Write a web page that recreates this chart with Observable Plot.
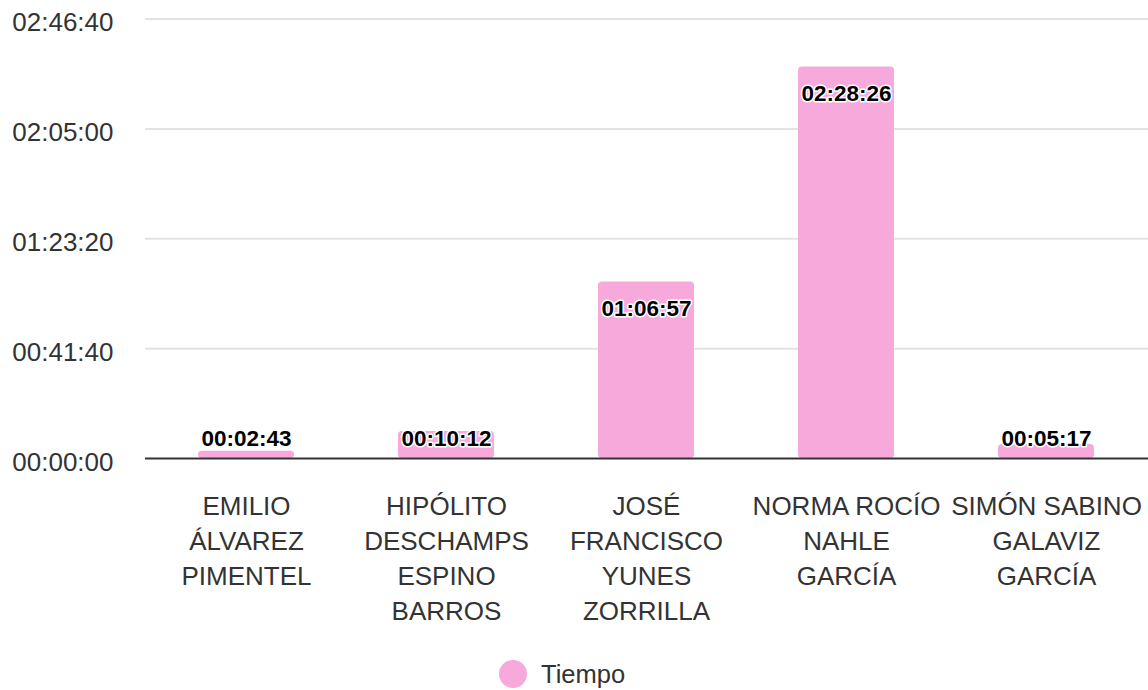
<!DOCTYPE html>
<html>
<head>
<meta charset="utf-8">
<script src="https://cdn.jsdelivr.net/npm/d3@7"></script>
<script src="https://cdn.jsdelivr.net/npm/@observablehq/plot@0.6"></script>
<style>
  body { margin: 0; background: #fff; font-family: "Liberation Sans", Arial, sans-serif; }
  #wrap { position: relative; width: 1148px; height: 690px; overflow: hidden; }
  .legend { position: absolute; left: 499px; top: 660px; display: flex; align-items: center; }
  .dot { width: 28px; height: 28px; border-radius: 50%; background: #f8a9db; margin-right: 14px; }
  .legend span { font-size: 25.5px; line-height: 28px; color: #333; }
</style>
</head>
<body>
<div id="wrap"></div>
<script>
const names = [
  "EMILIO ÁLVAREZ PIMENTEL",
  "HIPÓLITO DESCHAMPS ESPINO BARROS",
  "JOSÉ FRANCISCO YUNES ZORRILLA",
  "NORMA ROCÍO NAHLE GARCÍA",
  "SIMÓN SABINO GALAVIZ GARCÍA"
];
const tickLabels = [
  "EMILIO\nÁLVAREZ\nPIMENTEL",
  "HIPÓLITO\nDESCHAMPS\nESPINO\nBARROS",
  "JOSÉ\nFRANCISCO\nYUNES\nZORRILLA",
  "NORMA ROCÍO\nNAHLE\nGARCÍA",
  "SIMÓN SABINO\nGALAVIZ\nGARCÍA"
];
const tiempos = ["00:02:43", "00:10:12", "01:06:57", "02:28:26", "00:05:17"];
const yTicks = ["00:00:00", "00:41:40", "01:23:20", "02:05:00", "02:46:40"];
const seriesName = "Tiempo";

const toSec = s => { const [h, m, x] = s.split(":").map(Number); return h * 3600 + m * 60 + x; };
const yTickSecs = yTicks.map(toSec);
const data = names.map((n, i) => ({ name: n, sec: toSec(tiempos[i]), label: tiempos[i] }));
const font = '"Liberation Sans", Arial, sans-serif';
const pink = "#f8a9db";

const labelStyle = { fontSize: 22.5, fontWeight: "bold", fill: "#000", stroke: "#fff", strokeWidth: 3, fontFamily: font };

const chart = Plot.plot({
  width: 1148,
  height: 650,
  marginLeft: 145,
  marginRight: 0,
  marginTop: 18.5,
  marginBottom: 192,
  style: { fontFamily: font, background: "transparent" },
  x: { domain: names, paddingInner: 0.52, paddingOuter: 0.26, align: 0.5, label: null },
  y: { domain: [yTickSecs[0], yTickSecs[yTickSecs.length - 1]], label: null },
  marks: [
    Plot.ruleY(yTickSecs.slice(1), { stroke: "#e3e3e3", strokeWidth: 2 }),
    Plot.barY(data, { x: "name", y: "sec", fill: pink, rx: 4 }),
    Plot.ruleY([0], { stroke: "#333", strokeWidth: 2 }),
    Plot.axisY(yTickSecs, {
      tickSize: 0, tickPadding: 32, fontSize: 26, fill: "#333", label: null, dy: 4,
      tickFormat: d => yTicks[yTickSecs.indexOf(d)]
    }),
    Plot.axisX({
      tickSize: 0, tickPadding: 32, fontSize: 26, lineHeight: 35 / 26, fill: "#333", label: null,
      tickFormat: d => tickLabels[names.indexOf(d)]
    }),
    Plot.text(data.filter(d => d.sec >= 1500), { x: "name", y: "sec", text: "label", dy: 27, ...labelStyle }),
    Plot.text(data.filter(d => d.sec < 1500), { x: "name", y: () => 0, text: "label", dy: -20, ...labelStyle })
  ]
});

const wrap = document.getElementById("wrap");
wrap.appendChild(chart);
const legend = document.createElement("div");
legend.className = "legend";
legend.innerHTML = `<div class="dot"></div><span>${seriesName}</span>`;
wrap.appendChild(legend);
</script>
</body>
</html>
